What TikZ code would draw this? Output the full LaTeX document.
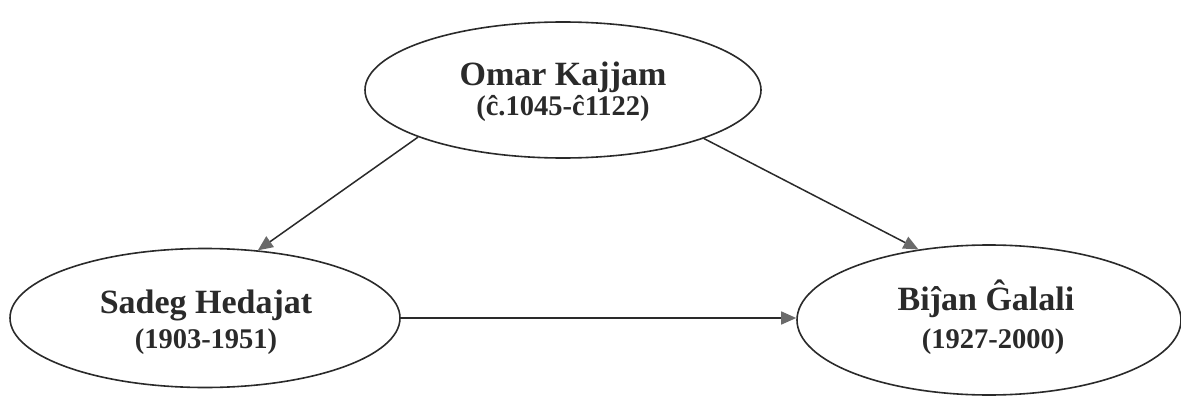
\documentclass[tikz,border=0pt]{standalone}
\usepackage{fontspec}
\setmainfont{Liberation Serif}
\usetikzlibrary{shapes.geometric,arrows.meta}
\definecolor{ink}{HTML}{2A2A2A}
\definecolor{tipgray}{HTML}{6A6A6A}
\tikzset{
  ell/.style={ellipse, draw=ink, line width=1.6pt, inner sep=0pt, fill=white},
  namelbl/.style={anchor=base, text=ink, inner sep=0pt, font=\fontsize{34}{34}\selectfont\bfseries},
  datelbl/.style={anchor=base, text=ink, inner sep=0pt, font=\fontsize{28.5}{28.5}\selectfont\bfseries},
  arr/.style={draw=ink, line width=1.5pt, -{Triangle[length=15pt,width=13pt,fill=tipgray,color=tipgray]}}
}
\begin{document}
\begin{tikzpicture}[x=1pt,y=-1pt]
\useasboundingbox[fill=white] (0,0) rectangle (1181,396);
\node[ell, minimum width=396pt, minimum height=136pt] (omar) at (563,90) {};
\node[ell, minimum width=390pt, minimum height=139pt] (sadeg) at (205,318) {};
\node[ell, minimum width=384pt, minimum height=150pt] (bijan) at (989,320) {};

\node[namelbl] (omarname) at (563,85) {Omar Kajjam};
\node[datelbl] (omardates) at (563,115) {(ĉ.1045-ĉ1122)};
\node[namelbl] (sadegname) at (206,313) {Sadeg Hedajat};
\node[datelbl] (sadegdates) at (206,348) {(1903-1951)};
\node[namelbl] (bijanname) at (986,310) {Biĵan Ĝalali};
\node[datelbl] (bijandates) at (993,348) {(1927-2000)};

\draw[arr] (omar.198) -- (sadeg.52.5);
\draw[arr] (omar.341.5) -- (bijan.135.8);
\draw[arr] (sadeg.east) -- (sadeg.east -| bijan.west);
\end{tikzpicture}
\end{document}
